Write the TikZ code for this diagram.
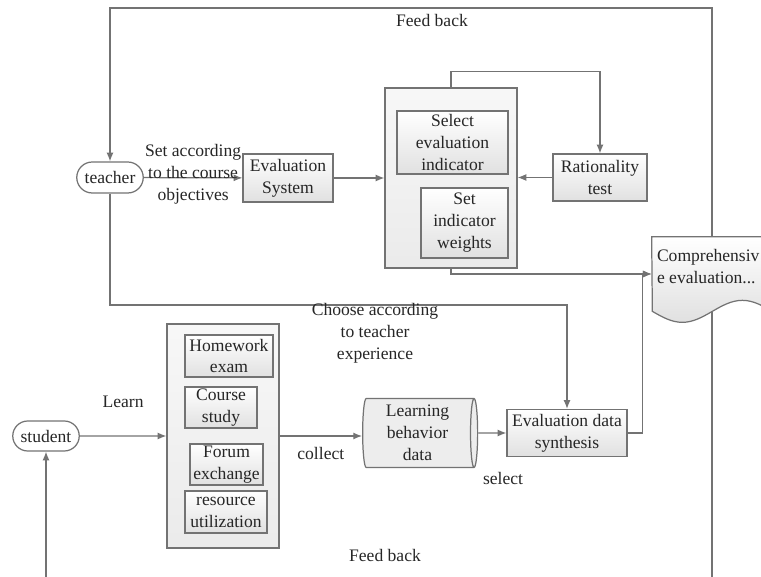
\documentclass[tikz,border=0pt]{standalone}
\usepackage{fontspec}
\setmainfont{Liberation Serif}
\usetikzlibrary{arrows.meta,positioning,shapes.geometric,shapes.misc}
\colorlet{mygray}{black!55}
\colorlet{mytext}{black!85}
\colorlet{myfill}{black!12}
\tikzset{
	frame/.style={
		rectangle, draw=mygray, line width=0.7pt,
		top color=white, bottom color=myfill,
		text=mytext, align=center, inner sep=1pt,
	},
	group/.style={
		rectangle, draw=mygray, line width=0.7pt,
		top color=black!3, bottom color=black!8,
	},
	actor/.style={
		rounded rectangle, draw=mygray, line width=0.7pt,
		fill=white, text=mytext, inner sep=1pt,
	},
	line/.style={
		draw=mygray, line width=0.7pt, -{Latex[length=5pt,width=4pt]},
	},
	lbl/.style={text=mytext, align=center, inner sep=0pt},
}

\begin{document}
\begin{tikzpicture}[x=0.02cm, y=-0.02cm, font=\rmfamily\fontsize{10}{12.5}\selectfont]
	\useasboundingbox (0,0) rectangle (761,577);
	% Teacher side
	\node [actor, minimum width=1.4cm, minimum height=0.62cm] (teacher) at (110,177.5) {teacher};
	\node [frame, minimum width=1.8cm, minimum height=0.96cm] (evalsys) at (288,178) {Evaluation\\System};
	\node [group, minimum width=2.64cm, minimum height=3.6cm] (evalbox) at (451,178) {};
	\node [frame, minimum width=2.22cm, minimum height=1.26cm] (select) at (452.5,142.5) {Select\\evaluation\\indicator};
	\node [frame, minimum width=1.74cm, minimum height=1.4cm] (weights) at (464.5,223) {Set\\indicator\\weights};
	\node [frame, minimum width=1.88cm, minimum height=0.94cm] (ratio) at (600,177.5) {Rationality\\test};
	% Comprehensive evaluation (document)
	\node [minimum width=2.4cm, minimum height=1.48cm, inner sep=0pt] (comp) at (712,274) {};
	\draw [draw=mygray, line width=0.7pt, top color=white, bottom color=myfill]
		(comp.north west) -- (comp.north east) -- (comp.south east)
		sin ++(-30,-11) cos ++(-30,11) sin ++(-30,11) cos ++(-30,-11) -- cycle;
	\node [lbl, anchor=north west, align=left] (comptext) at ([shift={(5,12)}]comp.north west) {Comprehensiv\\e evaluation...};
	% Student side
	\node [actor, minimum width=1.4cm, minimum height=0.6cm] (student) at (46,436) {student};
	\node [group, minimum width=2.24cm, minimum height=4.48cm] (learnbox) at (223,436) {};
	\node [frame, minimum width=1.76cm, minimum height=0.84cm] (homework) at (229,356) {Homework\\exam};
	\node [frame, minimum width=1.44cm, minimum height=0.78cm] (course) at (221,407.5) {Course\\study};
	\node [frame, minimum width=1.46cm, minimum height=0.82cm] (forum) at (226.5,464.5) {Forum\\exchange};
	\node [frame, minimum width=1.64cm, minimum height=0.84cm] (resource) at (226,512) {resource\\utilization};
	\node [cylinder, draw=mygray, line width=0.7pt, fill=black!7, text=mytext, align=center,
		aspect=0.12, minimum width=1.38cm, minimum height=2.3cm, inner sep=1pt] (data) at (417.5,433) {Learning\\behavior\\data};
	\node [frame, minimum width=2.4cm, minimum height=0.94cm] (synth) at (567,433) {Evaluation data\\synthesis};
	% Upper flow
	\draw[line] (teacher) -- (evalsys)
	node[lbl, midway, yshift=2pt] {Set according\\to the course\\objectives};
	\draw[line] (evalsys) -- (evalbox);
	\draw[line] (ratio.west) -- (ratio.west -| evalbox.east);
	\draw[line] (evalbox.north) -- ++(0,-16) -| (ratio.north);
	% Feed back (top)
	\coordinate (fbtop) at (110,8);
	\draw[line] (comp.north) |- (fbtop) -- (teacher.north);
	\node[lbl] (fbtoptext) at (432,20) {Feed back};
	% Choose
	\coordinate (choose) at (110,305);
	\draw[line] (teacher.south) -- (choose) -| (synth.north);
	\node[lbl] (choosetext) at (375,333) {Choose according\\to teacher\\experience};
	% Into the document
	\draw[line] (evalbox.south) |- (comp.west);
	\draw[line] (synth.east) -- ++(15,0) |- (comp.west);
	% Lower flow
	\draw[line] (student) -- (learnbox)
	node[lbl, midway, above=16pt] {Learn};
	\draw[line] (learnbox.east) -- (learnbox.east -| data.west)
	node[lbl, midway, below=6pt] {collect};
	\draw[line] (data.east) -- (synth.west);
	\node[lbl] (selecttext) at (503,478) {select};
	% Feed back (bottom)
	\coordinate (fbbot) at (46,600);
	\draw[line] (comp.south) |- (fbbot) -- (student.south);
	\node[lbl] (fbbottext) at (385,555) {Feed back};
\end{tikzpicture}
\end{document}
